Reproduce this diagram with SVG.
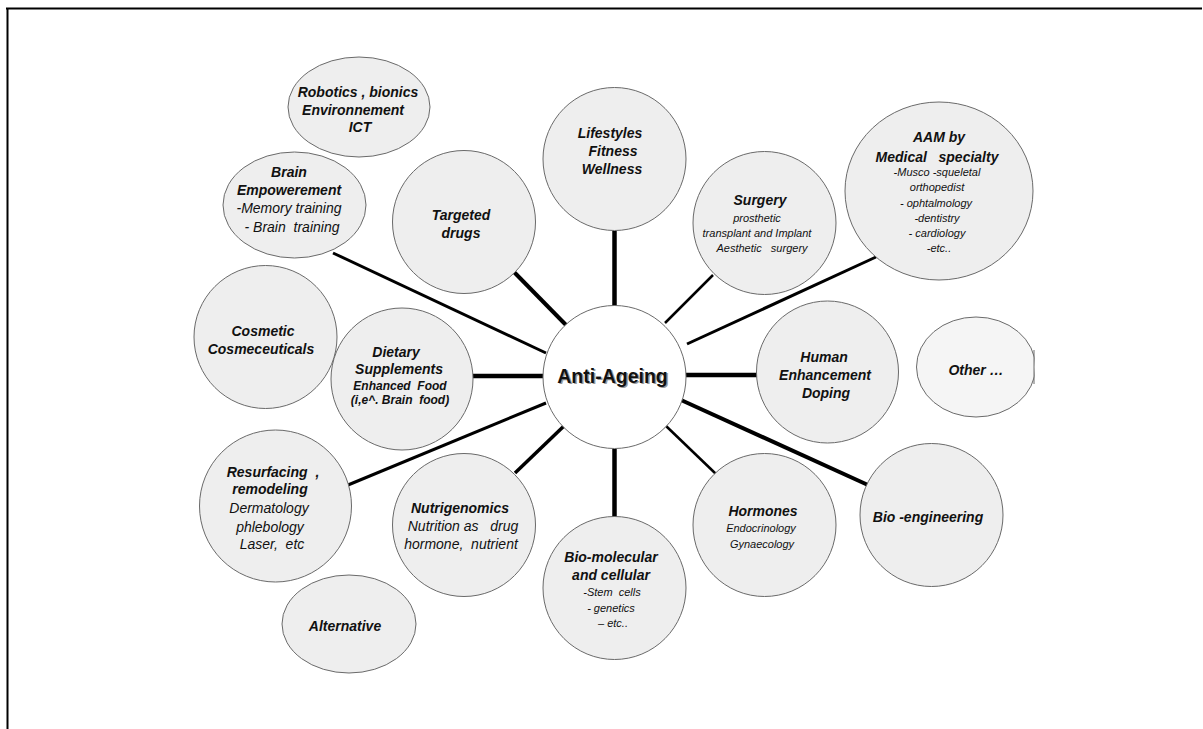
<svg xmlns="http://www.w3.org/2000/svg" width="1203" height="729" viewBox="0 0 1203 729">
<defs>
<style>
.node{fill:#eeeeee;stroke:#6a6a6a;stroke-width:1}
.t{font-family:"Liberation Sans",Arial,sans-serif;font-style:italic;text-anchor:middle;fill:#111;white-space:pre}
.b{font-weight:bold;font-size:14px}
.n{font-size:14px}
.s{font-size:11px}
.m{font-weight:bold;font-size:12px}
.conn line{stroke:#000;stroke-linecap:butt}
</style>
<clipPath id="clipOther"><rect x="900" y="300" width="134.5" height="140"/></clipPath>
</defs>
<rect x="0" y="0" width="1203" height="729" fill="#fff"/>
<g id="frame" stroke="#000" fill="none">
<line x1="6" y1="8.5" x2="1202" y2="8.5" stroke-width="1.8"/>
<line x1="7.5" y1="8" x2="7.5" y2="729" stroke-width="2"/>
</g>
<g id="connectors" class="conn">
<line x1="333" y1="253" x2="546" y2="353" stroke-width="3"/>
<line x1="514" y1="272" x2="566" y2="325" stroke-width="4"/>
<line x1="614.5" y1="231" x2="614.5" y2="306" stroke-width="4.5"/>
<line x1="713" y1="275" x2="665" y2="323" stroke-width="2.5"/>
<line x1="876" y1="257" x2="687" y2="344" stroke-width="3"/>
<line x1="473" y1="376" x2="543" y2="376" stroke-width="4.5"/>
<line x1="686" y1="375" x2="757" y2="375" stroke-width="4.5"/>
<line x1="348" y1="485" x2="546" y2="403" stroke-width="3"/>
<line x1="515" y1="473" x2="565" y2="425" stroke-width="3.5"/>
<line x1="614.5" y1="449" x2="614.5" y2="517" stroke-width="4.5"/>
<line x1="665" y1="425" x2="716" y2="474" stroke-width="2.5"/>
<line x1="681" y1="400" x2="868" y2="485" stroke-width="4"/>
</g>
<g id="center">
<circle cx="614.5" cy="377" r="71.5" fill="#fff" stroke="#6a6a6a" stroke-width="1"/>
<text x="614" y="384" font-family="'Liberation Sans',Arial,sans-serif" font-weight="bold" font-size="19.5" text-anchor="middle" fill="#9a9a9a">Anti-Ageing</text>
<text x="612.5" y="382.5" font-family="'Liberation Sans',Arial,sans-serif" font-weight="bold" font-size="19.5" text-anchor="middle" fill="#111">Anti-Ageing</text>
</g>
<g id="robotics">
<ellipse class="node" cx="359" cy="107" rx="71" ry="50"/>
<text class="t b" x="358" y="97">Robotics , bionics</text>
<text class="t b" x="353" y="115">Environnement</text>
<text class="t b" x="360" y="132">ICT</text>
</g>
<g id="brain">
<ellipse class="node" cx="294.5" cy="205" rx="71.5" ry="53"/>
<text class="t b" x="289" y="177">Brain</text>
<text class="t b" x="289" y="195">Empowerement</text>
<text class="t n" x="289" y="213">-Memory training</text>
<text class="t n" x="292" y="232">- Brain  training</text>
</g>
<g id="targeted">
<circle class="node" cx="464" cy="222" r="71.5"/>
<text class="t b" x="461" y="220">Targeted</text>
<text class="t b" x="461" y="238">drugs</text>
</g>
<g id="lifestyles">
<circle class="node" cx="614.5" cy="159" r="71.5"/>
<text class="t b" x="610" y="138">Lifestyles</text>
<text class="t b" x="613" y="156">Fitness</text>
<text class="t b" x="612" y="174">Wellness</text>
</g>
<g id="surgery">
<circle class="node" cx="764.5" cy="223" r="71.5"/>
<text class="t b" x="760" y="205">Surgery</text>
<text class="t s" x="757" y="222">prosthetic</text>
<text class="t s" x="757" y="237">transplant and Implant</text>
<text class="t s" x="762" y="252">Aesthetic   surgery</text>
</g>
<g id="aam">
<ellipse class="node" cx="939" cy="191" rx="94" ry="89"/>
<text class="t b" x="939" y="142">AAM by</text>
<text class="t b" x="937" y="162">Medical   specialty</text>
<text class="t s" x="937" y="176">-Musco -squeletal</text>
<text class="t s" x="937" y="191">orthopedist</text>
<text class="t s" x="936" y="207">- ophtalmology</text>
<text class="t s" x="937" y="222">-dentistry</text>
<text class="t s" x="937" y="237">- cardiology</text>
<text class="t s" x="939" y="252">-etc..</text>
</g>
<g id="cosmetic">
<circle class="node" cx="265.5" cy="337" r="71.5"/>
<text class="t b" x="263" y="336">Cosmetic</text>
<text class="t b" x="261" y="354">Cosmeceuticals</text>
</g>
<g id="dietary">
<circle class="node" cx="402" cy="379" r="71"/>
<text class="t b" x="396" y="357">Dietary</text>
<text class="t b" x="399" y="374">Supplements</text>
<text class="t m" x="400" y="390">Enhanced  Food</text>
<text class="t m" x="400" y="404">(i,e^. Brain  food)</text>
</g>
<g id="human">
<circle class="node" cx="827.5" cy="372" r="71"/>
<text class="t b" x="824" y="362">Human</text>
<text class="t b" x="825" y="380">Enhancement</text>
<text class="t b" x="826" y="398">Doping</text>
</g>
<g id="other">
<ellipse cx="976" cy="367" rx="59.5" ry="50" fill="#f5f5f5" stroke="#6a6a6a" stroke-width="1" clip-path="url(#clipOther)"/>
<line x1="1034" y1="350" x2="1034" y2="384" stroke="#6a6a6a" stroke-width="1"/>
<text class="t b" x="976" y="375">Other …</text>
</g>
<g id="resurfacing">
<circle class="node" cx="275.5" cy="506" r="76"/>
<text class="t b" x="273" y="477">Resurfacing  ,</text>
<text class="t b" x="270" y="494">remodeling</text>
<text class="t n" x="269" y="513">Dermatology</text>
<text class="t n" x="270" y="532">phlebology</text>
<text class="t n" x="272" y="549">Laser,  etc</text>
</g>
<g id="nutrigenomics">
<circle class="node" cx="464" cy="525" r="71.5"/>
<text class="t b" x="460" y="513">Nutrigenomics</text>
<text class="t n" x="463" y="531">Nutrition as   drug</text>
<text class="t n" x="461" y="549">hormone,  nutrient</text>
</g>
<g id="alternative">
<ellipse class="node" cx="349" cy="624" rx="67" ry="49"/>
<text class="t b" x="345" y="631">Alternative</text>
</g>
<g id="biomolecular">
<circle class="node" cx="614.5" cy="588" r="71.5"/>
<text class="t b" x="611" y="562">Bio-molecular</text>
<text class="t b" x="611" y="580">and cellular</text>
<text class="t s" x="612" y="596">-Stem  cells</text>
<text class="t s" x="611" y="612">- genetics</text>
<text class="t s" x="613" y="627">– etc..</text>
</g>
<g id="hormones">
<circle class="node" cx="764.5" cy="525" r="71.5"/>
<text class="t b" x="763" y="516">Hormones</text>
<text class="t s" x="761" y="532">Endocrinology</text>
<text class="t s" x="762" y="548">Gynaecology</text>
</g>
<g id="bioengineering">
<circle class="node" cx="931.5" cy="515" r="71.5"/>
<text class="t b" x="928" y="522">Bio -engineering</text>
</g>
</svg>
